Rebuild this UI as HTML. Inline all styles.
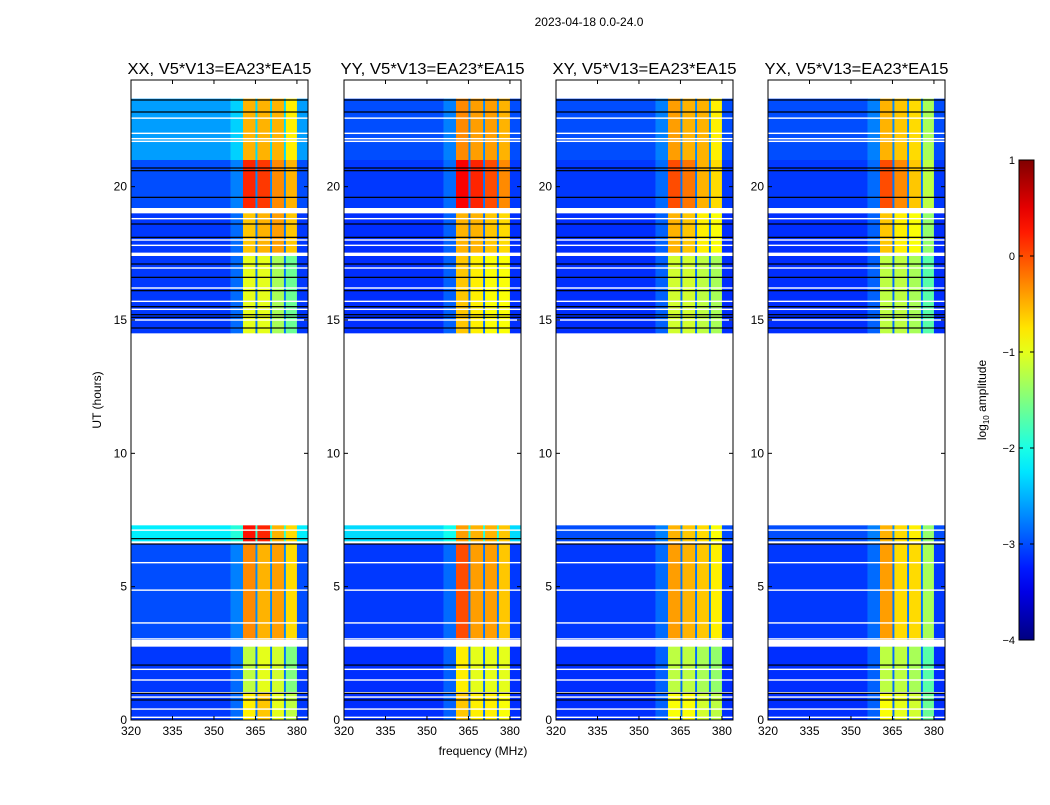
<!DOCTYPE html>
<html><head><meta charset="utf-8"><style>
body{margin:0;background:#fff;font-family:"Liberation Sans",sans-serif}
svg text{font-family:"Liberation Sans",sans-serif}
</style></head><body>
<svg id="fig" width="1050" height="800" viewBox="0 0 1050 800">
<text x="589" y="26" font-size="12" text-anchor="middle">2023-04-18 0.0-24.0</text>
<text x="483" y="755" font-size="12" text-anchor="middle">frequency (MHz)</text>
<text x="101" y="400" font-size="12" text-anchor="middle" transform="rotate(-90 101 400)">UT (hours)</text>
<text x="986" y="400" font-size="12" text-anchor="middle" transform="rotate(-90 986 400)">log<tspan font-size="8" dy="3">10</tspan><tspan dy="-3"> amplitude</tspan></text>
</svg>
<script>
const panelTitles=["XX, V5*V13=EA23*EA15","YY, V5*V13=EA23*EA15","XY, V5*V13=EA23*EA15","YX, V5*V13=EA23*EA15"];
const xTicks=[320,335,350,365,380];
const yTicks=[0,5,10,15,20];
const cbTicks=[1,0,-1,-2,-3,-4];
// frequency bins (MHz) : bg, edge, b1, gap, b2, gap, b3, gap, b4, right
const freqEdges=[320,356,360.5,365,365.7,370.3,371,375.3,376,380,384];
// segments: [t0,t1,bg,b1,b2,b3,b4]
const segXX=[[0,1.0,-3.1,-0.8,-0.6,-1.0,-1.2],[1.05,2.75,-3.1,-1.2,-1.0,-1.1,-1.5],[3.0,6.6,-3.0,-0.3,-0.5,-0.4,-0.7],[6.7,7.3,-2.2,0.3,0.2,-0.5,-0.7],[14.5,17.4,-3.1,-1.0,-1.0,-1.3,-1.6],[17.5,19.0,-3.1,-0.6,-0.5,-0.4,-0.6],[19.2,21.0,-3.0,0.2,0.1,-0.3,-0.5],[21.0,23.3,-2.6,-0.5,-0.5,-0.5,-0.8]];
const segYY=[[0,1.0,-3.15,-0.6,-0.8,-0.8,-0.9],[1.05,2.75,-3.15,-0.8,-1.0,-1.0,-1.0],[3.0,6.6,-3.1,0.0,-0.4,-0.4,-0.6],[6.7,7.3,-2.3,-0.4,-0.5,-0.5,-0.6],[14.5,17.4,-3.15,-0.6,-0.8,-0.9,-0.9],[17.5,19.0,-3.15,-0.5,-0.5,-0.6,-0.7],[19.2,21.0,-3.1,0.4,0.2,0.0,-0.3],[21.0,23.3,-3.0,-0.3,-0.4,-0.4,-0.5]];
const segXY=[[0,1.0,-3.15,-0.9,-0.9,-1.1,-1.2],[1.05,2.75,-3.15,-1.2,-1.2,-1.3,-1.4],[3.0,6.6,-3.1,-0.4,-0.5,-0.6,-0.8],[6.7,7.3,-3.0,-0.5,-0.6,-0.7,-0.9],[14.5,17.4,-3.15,-1.1,-1.1,-1.2,-1.3],[17.5,19.0,-3.15,-0.5,-0.6,-0.8,-0.9],[19.2,21.0,-3.1,0.0,-0.2,-0.5,-0.7],[21.0,23.3,-3.0,-0.4,-0.5,-0.5,-0.8]];
const segYX=[[0,1.0,-3.15,-0.9,-1.0,-1.1,-1.6],[1.05,2.75,-3.15,-1.2,-1.2,-1.3,-1.7],[3.0,6.6,-3.1,-0.4,-0.7,-0.7,-1.3],[6.7,7.3,-3.0,-0.5,-0.7,-0.8,-1.4],[14.5,17.4,-3.15,-1.2,-1.2,-1.3,-1.7],[17.5,19.0,-3.15,-0.6,-0.8,-0.9,-1.4],[19.2,21.0,-3.1,0.0,-0.3,-0.6,-1.2],[21.0,23.3,-3.0,-0.5,-0.6,-0.7,-1.3]];
const segments=[segXX,segYY,segXY,segYX];
const whiteLines=[0.1,0.41,0.86,1.5,1.9,2.9,3.04,3.64,4.87,5.9,7.12,15.0,15.4,15.7,16.2,16.95,17.5,17.8,18.0,18.8,19.05,21.7,21.8,22.0,22.57];
const blackLines=[0.75,1.0,2.06,6.6,6.8,14.7,15.1,15.2,15.5,16.1,16.6,17.1,18.1,18.6,19.6,20.6,20.7,22.8,23.25];
const panelLefts=[131,344,556,768];
const PW=177, PT=80, PB=720, X0=320, X1=384, Y0=0, Y1=24;
const NS="http://www.w3.org/2000/svg";
const svg=document.getElementById('fig');
function jet(v){let t=Math.max(0,Math.min(1,(v+4)/5));
 const c=x=>Math.round(255*Math.max(0,Math.min(1,x)));
 return `rgb(${c(1.5-Math.abs(4*t-3))},${c(1.5-Math.abs(4*t-2))},${c(1.5-Math.abs(4*t-1))})`;}
function mk(tag,attrs,parent){const e=document.createElementNS(NS,tag);for(const k in attrs)e.setAttribute(k,attrs[k]);(parent||svg).appendChild(e);return e;}
panelLefts.forEach((L,p)=>{
 const xs=f=>L+(f-X0)/(X1-X0)*PW;
 const ys=h=>PB-(h-Y0)/(Y1-Y0)*(PB-PT);
 const g=mk('g',{});
 
 
 segments[p].forEach(s=>{
  const [t0,t1,bg,b1,b2,b3,b4]=s;
  const lv=[bg,bg+0.25,b1,bg+0.3,b2,bg+0.3,b3,bg+0.3,b4,bg];
  for(let i=0;i<lv.length;i++){
   const r=mk('rect',{x:xs(freqEdges[i]),y:ys(t1),width:xs(freqEdges[i+1])-xs(freqEdges[i])+0.3,height:ys(t0)-ys(t1),fill:jet(lv[i])},g);
   
   
  }
 });
 whiteLines.forEach(h=>{const l=mk('rect',{x:L,y:ys(h)-0.7,width:PW,height:1.4,fill:'#fff'},g);
  });
 blackLines.forEach(h=>{const l=mk('rect',{x:L,y:ys(h)-0.6,width:PW,height:1.2,fill:'#000'},g);
  });
 const fr=mk('rect',{x:L,y:PT,width:PW,height:PB-PT,fill:'none',stroke:'#000','stroke-width':1},g);
 
 xTicks.forEach(v=>{const x=xs(v);
  mk('line',{x1:x,x2:x,y1:PB,y2:PB-4,stroke:'#000'},g);mk('line',{x1:x,x2:x,y1:PT,y2:PT+4,stroke:'#000'},g);
  const t=mk('text',{x:x,y:PB+15,'font-size':12,'text-anchor':'middle'},g);t.textContent=v;
  });
 yTicks.forEach(v=>{const y=ys(v);
  mk('line',{x1:L,x2:L+4,y1:y,y2:y,stroke:'#000'},g);mk('line',{x1:L+PW,x2:L+PW-4,y1:y,y2:y,stroke:'#000'},g);
  const t=mk('text',{x:L-4,y:y+4,'font-size':12,'text-anchor':'end'},g);t.textContent=v;
  });
 const tt=mk('text',{x:L+PW/2,y:74,'font-size':16,'text-anchor':'middle',textLength:184,lengthAdjust:'spacingAndGlyphs'},g);tt.textContent=panelTitles[p];
 
});
// colorbar
const CX=1019,CW=15,CT=160,CB=640;
const defs=mk('defs',{});const lg=mk('linearGradient',{id:'jetg',x1:0,y1:1,x2:0,y2:0},defs);
for(let i=0;i<=20;i++){mk('stop',{offset:i/20,'stop-color':jet(-4+5*i/20)},lg);}
const cb=mk('rect',{x:CX,y:CT,width:CW,height:CB-CT,fill:'url(#jetg)',stroke:'#000'});

cbTicks.forEach(v=>{const y=CB-(v+4)/5*(CB-CT);
 mk('line',{x1:CX,x2:CX+4,y1:y,y2:y,stroke:'#000'});mk('line',{x1:CX+CW,x2:CX+CW-4,y1:y,y2:y,stroke:'#000'});
 const t=mk('text',{x:CX-4,y:y+4,'font-size':11,'text-anchor':'end'});t.textContent=v<0?'\u2212'+Math.abs(v):v;
 });
</script>
</body></html>
